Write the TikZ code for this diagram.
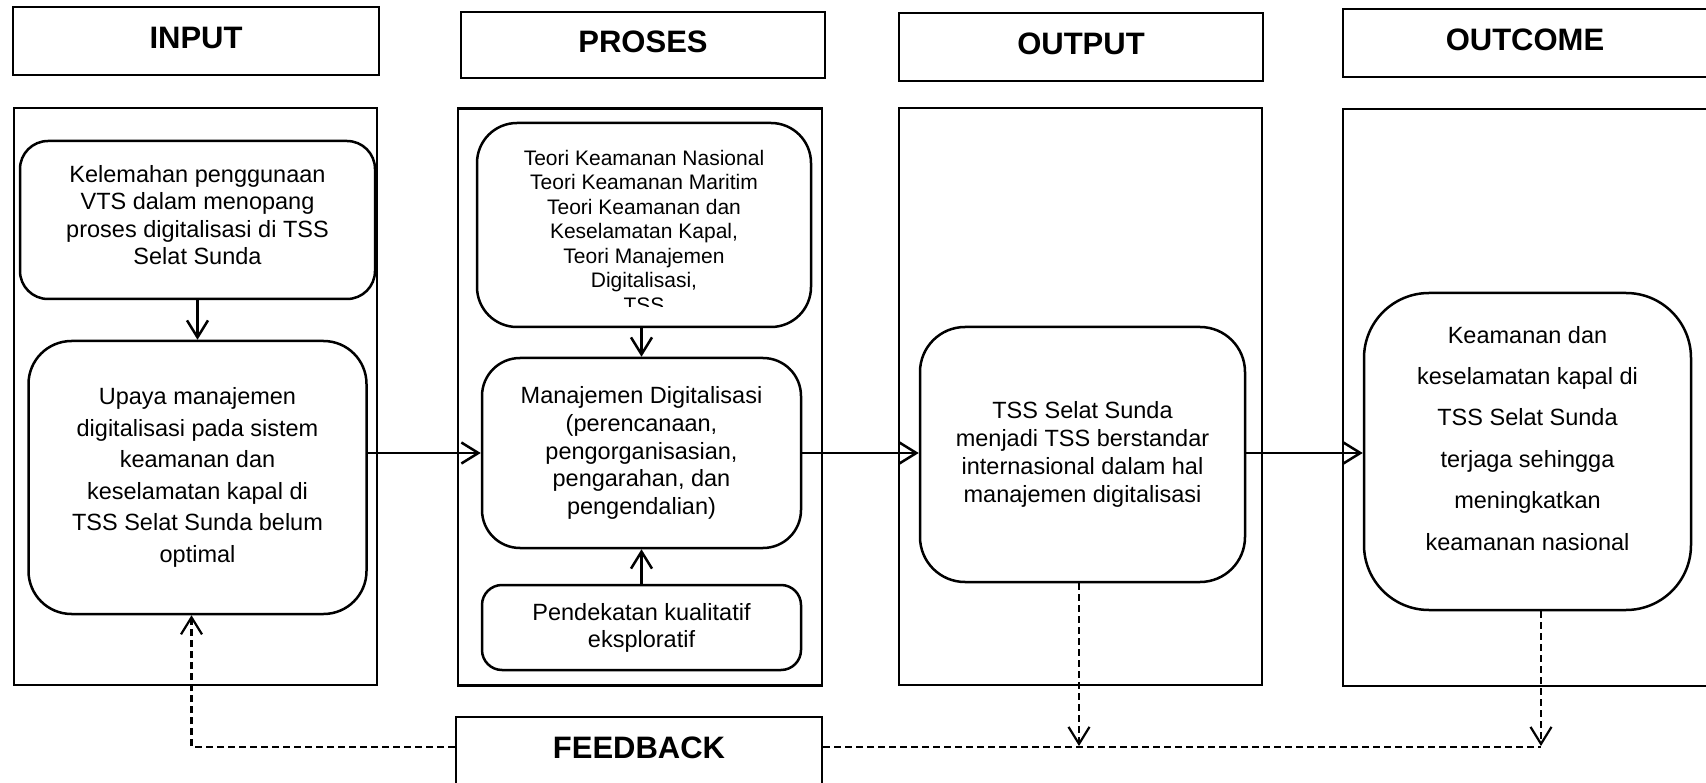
\documentclass[tikz,border=0pt]{standalone}
\usepackage{fontspec}
\setmainfont{Liberation Sans}
\usetikzlibrary{positioning,arrows.meta}

\begin{document}
\begin{tikzpicture}[x=1pt,y=-1pt,on grid,line width=2.5pt,>={Straight Barb[length=17pt,width=21pt]},
	head/.style={draw,line width=2.8pt,minimum width=364pt,minimum height=68pt,inner sep=0pt,
		font=\bfseries\fontsize{31}{36}\selectfont,text depth=7pt},
	col/.style={draw,line width=2.8pt,minimum width=364pt,minimum height=577pt,inner sep=0pt},
	rbox/.style={draw,rounded corners=#1,align=center,inner sep=0pt},
	rbox/.default=40pt,
	fb/.style={dash pattern=on 7pt off 4pt,line width=2.2pt}]
			\useasboundingbox (0,0) rectangle (1706,783);
			% headers
			\node[head,minimum width=366pt] (hin) at (196,41) {INPUT};
			\node[head,minimum height=66pt] (hpro) at (643,45) {PROSES};
			\node[head] (hout) at (1081,47) {OUTPUT};
			\node[head] (hoc) at (1525,43) {OUTCOME};
			\node[head,minimum width=366pt] (feedback) at (639,751) {FEEDBACK};
			% columns
			\node[col,minimum width=363pt] (cin) at (195.5,396.5) {};
			\node[col] (cpro) at (640,397) {};
			\node[col,minimum width=363pt] (cout) at (1080.5,396.5) {};
			\node[col] (coc) at (1525,397.5) {};
			% input
			\node[rbox=28pt,minimum width=355pt,minimum height=158pt,
				font=\fontsize{23.5}{27.6}\selectfont,text depth=10pt] (kelemahan) at (197.5,220)
				{Kelemahan penggunaan\\VTS dalam menopang\\proses digitalisasi di TSS\\Selat Sunda};
			\node[rbox=43pt,minimum width=338pt,minimum height=273pt,
				font=\fontsize{23.5}{31.6}\selectfont] (upaya) [below=257.5pt of kelemahan]
				{Upaya manajemen\\digitalisasi pada sistem\\keamanan dan\\keselamatan kapal di\\TSS Selat Sunda belum\\optimal};
			% proses
			\node[rbox,minimum width=334pt,minimum height=204pt] (teori) at (644,225) {};
			\begin{scope}
				\clip (teori.north west) rectangle (811,307);
				\node[align=center,inner sep=0pt,font=\fontsize{21}{24.5}\selectfont] (teoritxt) at (644,231)
					{Teori Keamanan Nasional\\Teori Keamanan Maritim\\Teori Keamanan dan\\Keselamatan Kapal,\\Teori Manajemen\\Digitalisasi,\\TSS};
			\end{scope}
			\node[rbox=38pt,minimum width=319pt,minimum height=190pt,
				font=\fontsize{23.5}{27.7}\selectfont] (manajemen) at (641.5,453)
				{Manajemen Digitalisasi\\(perencanaan,\\pengorganisasian,\\pengarahan, dan\\pengendalian)};
			\node[rbox=20pt,minimum width=319pt,minimum height=85pt,
				font=\fontsize{23.5}{27}\selectfont] (pendekatan) [below=174.5pt of manajemen]
				{Pendekatan kualitatif\\eksploratif};
			% output, outcome
			\node[rbox=45pt,minimum width=325pt,minimum height=255pt,
				font=\fontsize{23.5}{28}\selectfont] (tss) at (1082.5,454.5)
				{TSS Selat Sunda\\menjadi TSS berstandar\\internasional dalam hal\\manajemen digitalisasi};
			\node[rbox=65pt,minimum width=327pt,minimum height=317pt,
				font=\fontsize{23.5}{41.4}\selectfont,text depth=27pt] (keamanan) at (1527.5,451.5)
				{Keamanan dan\\keselamatan kapal di\\TSS Selat Sunda\\terjaga sehingga\\meningkatkan\\keamanan nasional};
			\path[->]
				(kelemahan) edge (upaya)
				(teori.south -| manajemen.north) edge (manajemen.north)
				(pendekatan) edge (manajemen)
				(upaya.east |- manajemen.west) edge (manajemen.west)
				(manajemen.east) edge (manajemen.east -| tss.west)
				(tss.east |- manajemen.east) edge (keamanan.west |- manajemen.east);
			% feedback
			\coordinate (fbline) at (0,747);
			\coordinate (fbup) at ([xshift=-6pt]upaya.south);
			\coordinate (tdash) at ([xshift=-3.5pt]tss.south);
			\coordinate (kdash) at ([xshift=13.5pt]keamanan.south);
			\draw[fb,->] (feedback.west |- fbline) -| (fbup);
			\draw[fb] (feedback.east |- fbline) -- (kdash |- fbline);
			\path[fb,->,shorten >=1pt]
				(tdash) edge (tdash |- fbline)
				(kdash) edge (kdash |- fbline);
		\end{tikzpicture}
\end{document}
